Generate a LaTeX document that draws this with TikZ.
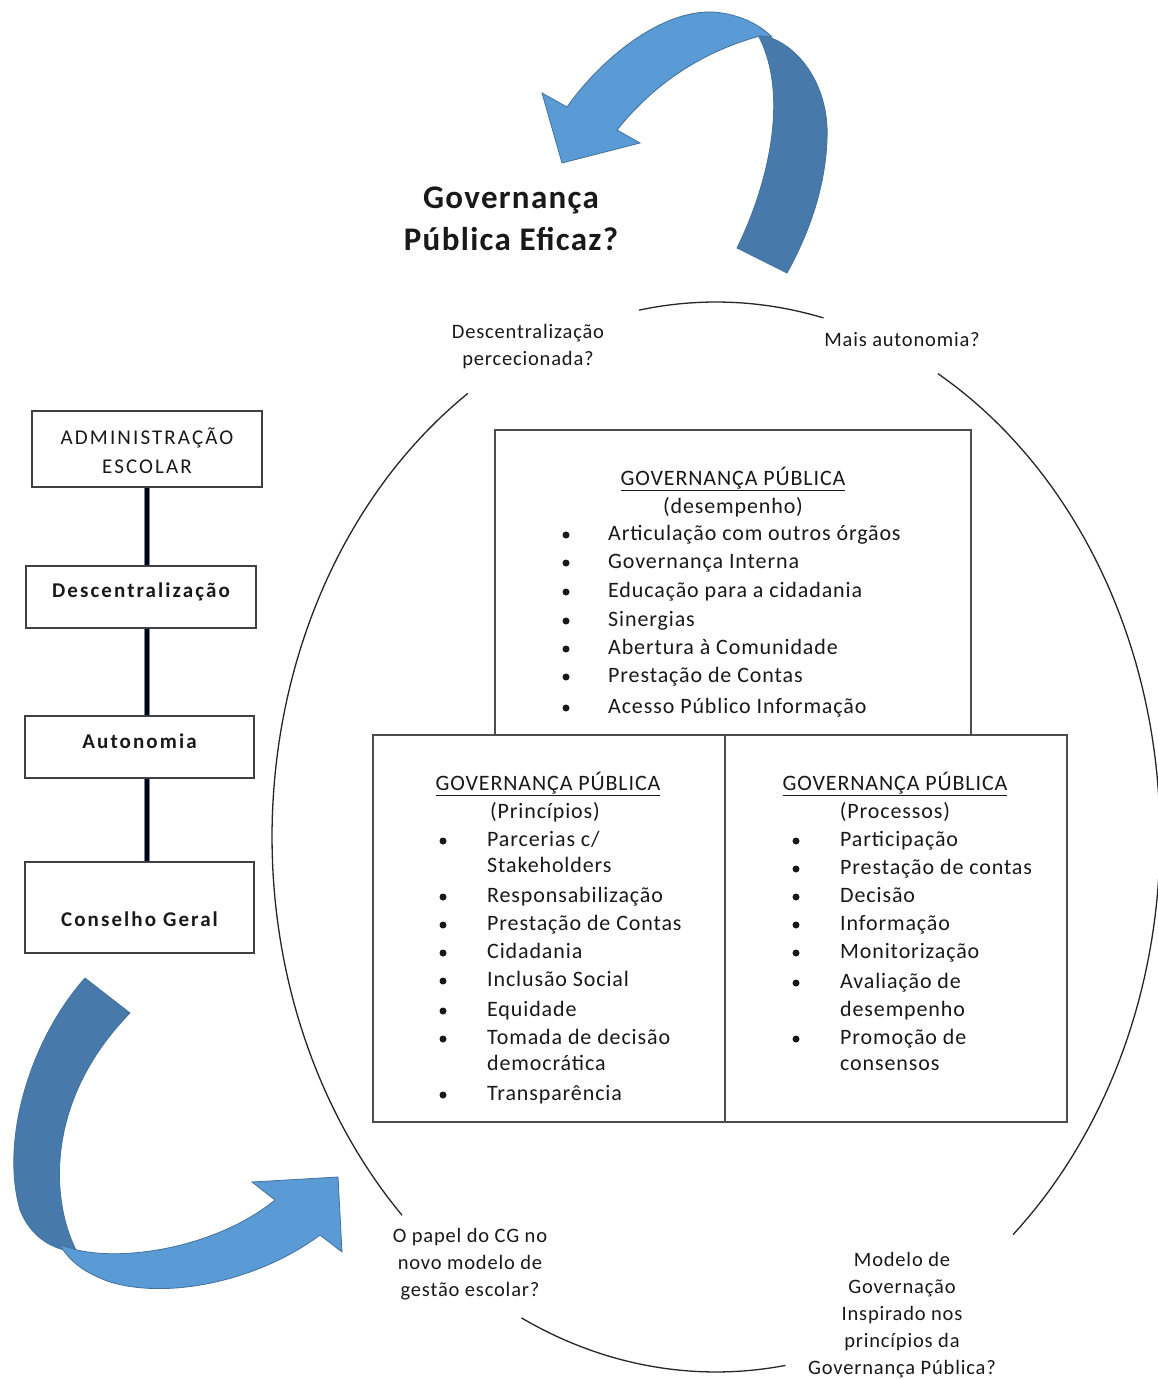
\documentclass[tikz,border=0pt]{standalone}
\usepackage{fontspec}
\setmainfont{Carlito}[LetterSpace=4]
\newfontfamily\widefont{Carlito}[LetterSpace=10]
\definecolor{arrlight}{HTML}{5B9BD5}
\definecolor{arrdark}{HTML}{477AAA}
\definecolor{arredge}{HTML}{41719C}
\definecolor{connblue}{HTML}{5B86B8}
\begin{document}
\begin{tikzpicture}[x=1pt,y=-1pt,
  ell/.style={line width=1.3pt, black!85},
  gbox/.style={draw=black!70, line width=1.8pt, fill=white, inner sep=0pt},
  lbox/.style={draw=black!75, line width=1.8pt, inner sep=0pt},
  conn/.style={line width=4pt, black, preaction={draw=connblue, line width=6.5pt}},
  body/.style={font=\fontsize{22}{28}\selectfont, inner sep=0pt, text=black!90},
  item/.style={body, anchor=west, text height=16pt, text depth=5pt},
  head/.style={body, text height=16pt, text depth=5pt},
  lefttxt/.style={font=\widefont\fontsize{21}{29}\selectfont, inner sep=0pt, text=black!90, align=center},
  small/.style={font=\fontsize{20.5}{27}\selectfont, inner sep=0pt, text=black!90, align=center},
  arrowdark/.style={fill=arrdark, draw=arredge, line width=0.8pt},
  arrowlight/.style={fill=arrlight, draw=arredge, line width=0.8pt}
]
\useasboundingbox (0,0) rectangle (1157,1380);
\fill[white] (0,0) rectangle (1157,1380);

% ---- ellipse arcs
\draw[ell] plot[domain=76:100,samples=30] ({716+444*cos(\x)},{837-535*sin(\x)});
\draw[ell] plot[domain=-48:60,samples=80] ({716+444*cos(\x)},{837-535*sin(\x)});
\draw[ell] plot[domain=-116:-81,samples=30] ({716+444*cos(\x)},{837-535*sin(\x)});
\draw[ell] plot[domain=124:225,samples=80] ({716+444*cos(\x)},{837-535*sin(\x)});

% ---- top curved arrow
\draw[arrowdark] (737,248) .. controls (768,185) and (790,95) .. (758,35)
   .. controls (792,38) and (830,80) .. (827,140)
   .. controls (825,190) and (808,235) .. (787,273) -- cycle;
\draw[arrowlight] (772,37) .. controls (760,25) and (740,14) .. (713,12)
   .. controls (660,10) and (600,60) .. (567,107) -- (542,93) -- (562,163) -- (640,143) -- (617,130)
   .. controls (645,95) and (690,55) .. (760,36) -- cycle;

% ---- bottom-left curved arrow
\draw[arrowdark] (85,978) .. controls (30,1040) and (0,1140) .. (20,1210)
   .. controls (30,1235) and (50,1250) .. (77,1252)
   .. controls (50,1200) and (45,1100) .. (130,1013) -- cycle;
\draw[arrowlight] (77,1250) .. controls (130,1262) and (220,1245) .. (275,1200) -- (252,1182) -- (338,1177) -- (342,1252) -- (320,1235)
   .. controls (260,1280) and (170,1300) .. (110,1282)
   .. controls (85,1273) and (70,1262) .. (60,1245) -- cycle;

% ---- title
\node[font=\bfseries\fontsize{33}{42}\selectfont, align=center, inner sep=0pt, text=black!90] (title) at (511,219) {Governança\\Pública Eficaz?};

% ---- ellipse labels
\node[small] (lab1) at (528,347) {Descentralização\\percecionada?};
\node[small] (lab2) at (902,340) {Mais autonomia?};
\node[small] (lab3) at (470,1264) {O papel do CG no\\novo modelo de\\gestão escolar?};
\node[small] (lab4) at (902,1315) {Modelo de\\Governação\\Inspirado nos\\princípios da\\Governança Pública?};

% ---- left column
\node[lbox, minimum width=230pt, minimum height=76pt] (adm) at (147,449) {};
\node[lefttxt] (admT) at (147,451) {ADMINISTRAÇÃO\\ESCOLAR};
\node[lbox, minimum width=230pt, minimum height=62pt] (desc) at (141,597) {};
\node[lefttxt, font=\widefont\bfseries\fontsize{21}{29}\selectfont] (descT) at (141,592) {Descentralização};
\node[lbox, minimum width=229pt, minimum height=62pt] (aut) at (139.5,747) {};
\node[lefttxt, font=\widefont\bfseries\fontsize{21}{29}\selectfont] (autT) at (139.5,741) {Autonomia};
\node[lbox, minimum width=229pt, minimum height=91pt] (cg) at (139.5,907.5) {};
\node[lefttxt, font=\widefont\bfseries\fontsize{21}{29}\selectfont] (cgT) at (139.5,919) {Conselho Geral};
\draw[conn] (adm.south) -- (adm.south |- desc.north);
\draw[conn] (adm.south |- desc.south) -- (adm.south |- aut.north);
\draw[conn] (adm.south |- aut.south) -- (adm.south |- cg.north);

% ---- central boxes
\node[gbox, minimum width=476pt, minimum height=305pt] (top) at (733,582.5) {};
\node[gbox, minimum width=352pt, minimum height=387pt] (pl) at (549,928.5) {};
\node[gbox, minimum width=342pt, minimum height=387pt] (pr) at (896,928.5) {};

% top box
\node[head] (topH) at (733,480) {\underline{GOVERNANÇA PÚBLICA}};
\node[head] (topS) at (733,508) {(desempenho)};
\foreach \yy/\txt [count=\i] in {535/Articulação com outros órgãos, 563/Governança Interna, 592/Educação para a cidadania, 621/Sinergias, 649/Abertura à Comunidade, 677/Prestação de Contas, 708/Acesso Público Informação}
  \node[item] (d\i) at (608,\yy) {\txt};
\foreach \yy in {535,563,592,621,649,677,708}
  \fill[black!90] (566,\yy) circle (3.5pt);

% bottom-left box
\node[head] (plH) at (548,785) {\underline{GOVERNANÇA PÚBLICA}};
\node[head] (plS) at (545,813) {(Princípios)};
\foreach \yy/\txt [count=\i] in {841/{Parcerias c/}, 867/Stakeholders, 897/Responsabilização, 925/Prestação de Contas, 953/Cidadania, 981/Inclusão Social, 1011/Equidade, 1039/Tomada de decisão, 1065/democrática, 1095/Transparência}
  \node[item] (p\i) at (487,\yy) {\txt};
\foreach \yy in {841,897,925,953,981,1011,1039,1095}
  \fill[black!90] (443,\yy) circle (3.5pt);

% bottom-right box
\node[head] (prH) at (895,785) {\underline{GOVERNANÇA PÚBLICA}};
\node[head] (prS) at (895,813) {(Processos)};
\foreach \yy/\txt [count=\i] in {841/Participação, 869/Prestação de contas, 897/Decisão, 925/Informação, 953/Monitorização, 983/Avaliação de, 1011/desempenho, 1039/Promoção de, 1065/consensos}
  \node[item] (r\i) at (840,\yy) {\txt};
\foreach \yy in {841,869,897,925,953,983,1039}
  \fill[black!90] (796,\yy) circle (3.5pt);
\end{tikzpicture}
\end{document}
